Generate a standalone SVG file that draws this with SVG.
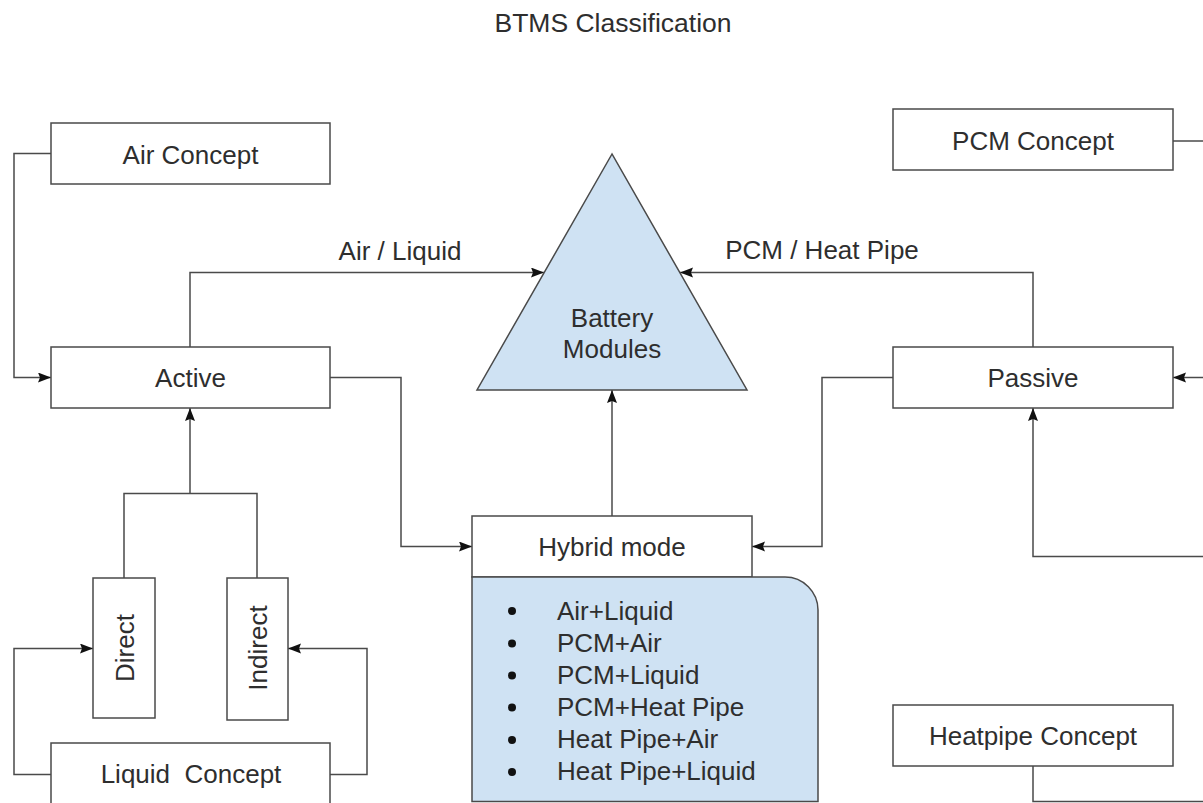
<svg xmlns="http://www.w3.org/2000/svg" width="1203" height="803" viewBox="0 0 1203 803">
  <defs>
    <marker id="arrow" markerWidth="13" markerHeight="11" refX="13" refY="5" orient="auto" markerUnits="userSpaceOnUse">
      <path d="M0,0 L13,5 L0,10 L2,5 z" fill="#111111"/>
    </marker>
    <style>
      .box { fill: #ffffff; stroke: #4a4a4a; stroke-width: 1.5; }
      .blue { fill: #cfe2f3; stroke: #4a4a4a; stroke-width: 1.5; }
      .edge { fill: none; stroke: #4a4a4a; stroke-width: 1.5; }
      .arr { marker-end: url(#arrow); }
      text { font-family: "Liberation Sans", Arial, sans-serif; font-size: 26px; fill: #2e2e2e; }
      .mid { text-anchor: middle; }
    </style>
  </defs>

  <rect width="1203" height="803" fill="#ffffff"/>

  <text id="title" class="mid" x="613" y="32" style="font-size:26.5px">BTMS Classification</text>

  <!-- connectors -->
  <g id="connectors">
    <path class="edge arr" d="M51,153.5 H14 V377.5 H51"/>
    <path class="edge arr" d="M190,347 V272.5 H544"/>
    <path class="edge arr" d="M1033,347 V272.5 H680"/>
    <path class="edge arr" d="M330,377.5 H401 V546.5 H472"/>
    <path class="edge arr" d="M893,377.5 H822 V546.5 H752"/>
    <path class="edge arr" d="M612,516 V390"/>
    <path class="edge" d="M124,578 V493.5 H257 V578"/>
    <path class="edge arr" d="M190,493.5 V408"/>
    <path class="edge arr" d="M51,774.5 H14 V648.5 H93"/>
    <path class="edge arr" d="M330,774.5 H367 V648.5 H288"/>
    <path class="edge" d="M1173,141 H1203"/>
    <path class="edge arr" d="M1203,377.5 H1173"/>
    <path class="edge arr" d="M1203,556.5 H1033 V408"/>
    <path class="edge" d="M1033,766 V801.5 H1203"/>
    <text x="400" y="260" class="mid">Air / Liquid</text>
    <text x="822" y="259" class="mid">PCM / Heat Pipe</text>
  </g>

  <g id="battery-modules">
    <polygon class="blue" points="612,154 477,390 747,390"/>
    <text x="612" y="327" class="mid">Battery</text>
    <text x="612" y="358" class="mid">Modules</text>
  </g>

  <g id="air-concept">
    <rect class="box" x="51" y="123" width="279" height="61"/>
    <text x="190.5" y="163.5" class="mid">Air Concept</text>
  </g>

  <g id="active">
    <rect class="box" x="51" y="347" width="279" height="61"/>
    <text x="190.5" y="387" class="mid">Active</text>
  </g>

  <g id="pcm-concept">
    <rect class="box" x="893" y="109" width="280" height="61"/>
    <text x="1033" y="150" class="mid">PCM Concept</text>
  </g>

  <g id="passive">
    <rect class="box" x="893" y="347" width="280" height="61"/>
    <text x="1033" y="387" class="mid">Passive</text>
  </g>

  <g id="direct">
    <rect class="box" x="93" y="578" width="62" height="140"/>
    <text class="mid" transform="translate(133.5,648) rotate(-90)">Direct</text>
  </g>

  <g id="indirect">
    <rect class="box" x="227" y="578" width="61" height="142"/>
    <text class="mid" transform="translate(266.5,648) rotate(-90)">Indirect</text>
  </g>

  <g id="liquid-concept">
    <rect class="box" x="51" y="743" width="279" height="66"/>
    <text x="191" y="783" class="mid" xml:space="preserve">Liquid  Concept</text>
  </g>

  <g id="hybrid-mode">
    <rect class="box" x="472" y="516" width="280" height="61"/>
    <text x="612" y="556" class="mid">Hybrid mode</text>
  </g>

  <g id="hybrid-list">
    <path class="blue" d="M472,577 H785 A33,33 0 0 1 818,610 V801.5 H472 Z"/>
    <g fill="#111111">
      <circle cx="512" cy="611" r="4"/>
      <circle cx="512" cy="643.5" r="4"/>
      <circle cx="512" cy="675.5" r="4"/>
      <circle cx="512" cy="707.5" r="4"/>
      <circle cx="512" cy="740" r="4"/>
      <circle cx="512" cy="772" r="4"/>
    </g>
    <text x="557" y="619.5">Air+Liquid</text>
    <text x="557" y="651.5">PCM+Air</text>
    <text x="557" y="683.5">PCM+Liquid</text>
    <text x="557" y="716">PCM+Heat Pipe</text>
    <text x="557" y="748">Heat Pipe+Air</text>
    <text x="557" y="780">Heat Pipe+Liquid</text>
  </g>

  <g id="heatpipe-concept">
    <rect class="box" x="893" y="705" width="280" height="61"/>
    <text x="1033" y="745" class="mid">Heatpipe Concept</text>
  </g>
</svg>
